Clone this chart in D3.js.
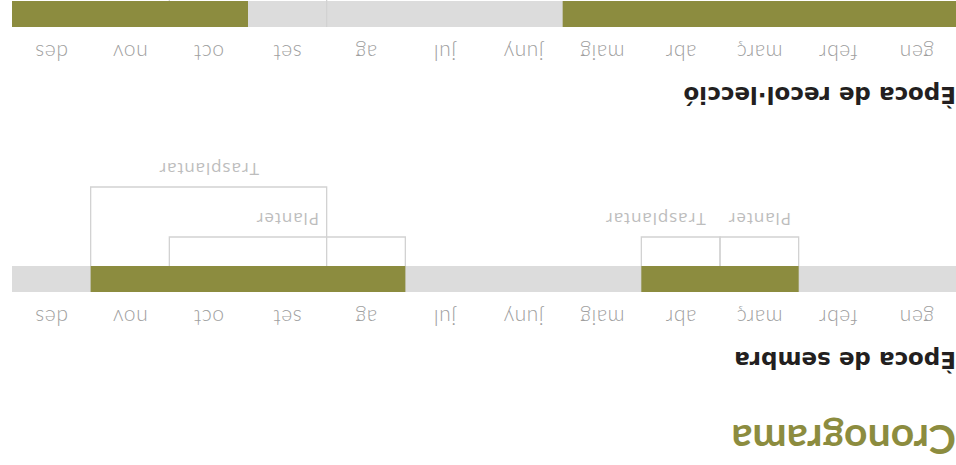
<!DOCTYPE html>
<html>
<head>
<meta charset="utf-8">
<script src="https://cdn.jsdelivr.net/npm/d3@7"></script>
<style>
  body { margin: 0; background: #fff; }
  svg { display: block; }
  .month { font-family: Lato, "Open Sans", sans-serif; font-size: 21px; font-weight: 300; fill: #9f9f9f; letter-spacing: 0.6px; }
  .section { font-family: "DejaVu Sans", "Open Sans", sans-serif; font-size: 23px; font-weight: 700; fill: #231f20; }
  .title { font-family: Lato, "Open Sans", sans-serif; font-size: 41px; font-weight: 700; fill: #8c8c3f; }
  .blabel { font-family: "Open Sans", Lato, sans-serif; font-size: 17px; fill: #bdbdbd; letter-spacing: 0.9px; }
</style>
</head>
<body>
<div id="chart"></div>
<script>
// data
var months = ['gen', 'febr', 'març', 'abr', 'maig', 'juny', 'jul', 'ag', 'set', 'oct', 'nov', 'des'];
var sowingTitle = 'Època de sembra';
var sowingActive = [[2, 3], [7, 10]];          // month index ranges (inclusive)
var sowingBrackets = [
  {label: 'Planter', from: 2, to: 2},
  {label: 'Trasplantar', from: 3, to: 3},
  {label: 'Planter', from: 7, to: 9},
  {label: 'Trasplantar', from: 8, to: 10}
];
var harvestTitle = 'Època de recol·lecció';
var harvestActive = [[0, 4], [9, 11]];
var harvestBrackets = [
  {label: '', from: 8, to: 9}
];

var width = 956, height = 465;
var chartWidth = 944;
var olive = '#8c8c3f', gray = '#dcdcdc', lineGray = '#d2d2d2';

var svg = d3.select('#chart').append('svg')
  .attr('width', width)
  .attr('height', height);

// the whole chart is shown turned upside down
var root = svg.append('g')
  .attr('transform', 'rotate(180,' + width / 2 + ',' + height / 2 + ')');

var x = d3.scaleBand().domain(months).range([0, chartWidth]).padding(0);

root.append('text').attr('class', 'title')
  .attr('x', 0).attr('y', 40)
  .text('Cronograma');

function drawBlock(top, title, active, brackets) {
  var g = root.append('g').attr('transform', 'translate(0,' + top + ')');
  var barTop = 60, barH = 26;

  g.append('text').attr('class', 'section')
    .attr('x', 0).attr('y', 0)
    .text(title);

  var axis = d3.axisTop(x).tickSize(0).tickPadding(0);
  var ax = g.append('g').attr('transform', 'translate(0,42)').call(axis);
  ax.select('.domain').remove();
  ax.selectAll('text').attr('class', 'month').attr('dy', 0).attr('fill', null);

  g.append('rect')
    .attr('x', 0).attr('y', barTop)
    .attr('width', chartWidth).attr('height', barH)
    .attr('fill', gray);

  // stack brackets on levels so that overlapping ones go further down
  var levels = [];
  brackets.forEach(function(b) {
    var lv = 0;
    while (levels[lv] && levels[lv].some(function(o) { return b.from <= o.to && b.to >= o.from; })) lv++;
    levels[lv] = levels[lv] || [];
    levels[lv].push(b);
    b.level = lv;
  });

  var bottom = function(b) { return barTop + barH + 29 + b.level * 50; };
  g.selectAll('path.bracket').data(brackets).enter().append('path')
    .attr('class', 'bracket')
    .attr('d', function(b) {
      var x0 = x(months[b.from]), x1 = x(months[b.to]) + x.bandwidth();
      return 'M' + x0 + ',' + barTop + 'V' + bottom(b) + 'H' + x1 + 'V' + barTop;
    })
    .attr('fill', 'none')
    .attr('stroke', lineGray)
    .attr('stroke-width', 1.3);

  g.selectAll('rect.on').data(active).enter().append('rect')
    .attr('class', 'on')
    .attr('x', function(d) { return x(months[d[0]]); })
    .attr('y', barTop)
    .attr('width', function(d) { return x(months[d[1]]) + x.bandwidth() - x(months[d[0]]); })
    .attr('height', barH)
    .attr('fill', olive);

  var lastEnd = {};
  g.selectAll('text.blabel').data(brackets).enter().append('text')
    .attr('class', 'blabel')
    .attr('y', function(b) { return bottom(b) + 24; })
    .text(function(b) { return b.label; })
    .each(function(b) {
      var w = this.getComputedTextLength();
      var cx = (x(months[b.from]) + x(months[b.to]) + x.bandwidth()) / 2;
      var start = cx - w / 2;
      if (lastEnd[b.level] !== undefined && start < lastEnd[b.level] + 22) start = lastEnd[b.level] + 22;
      lastEnd[b.level] = start + w;
      d3.select(this).attr('x', start);
    });
}

drawBlock(113, sowingTitle, sowingActive, sowingBrackets);
drawBlock(378, harvestTitle, harvestActive, harvestBrackets);
</script>
</body>
</html>
